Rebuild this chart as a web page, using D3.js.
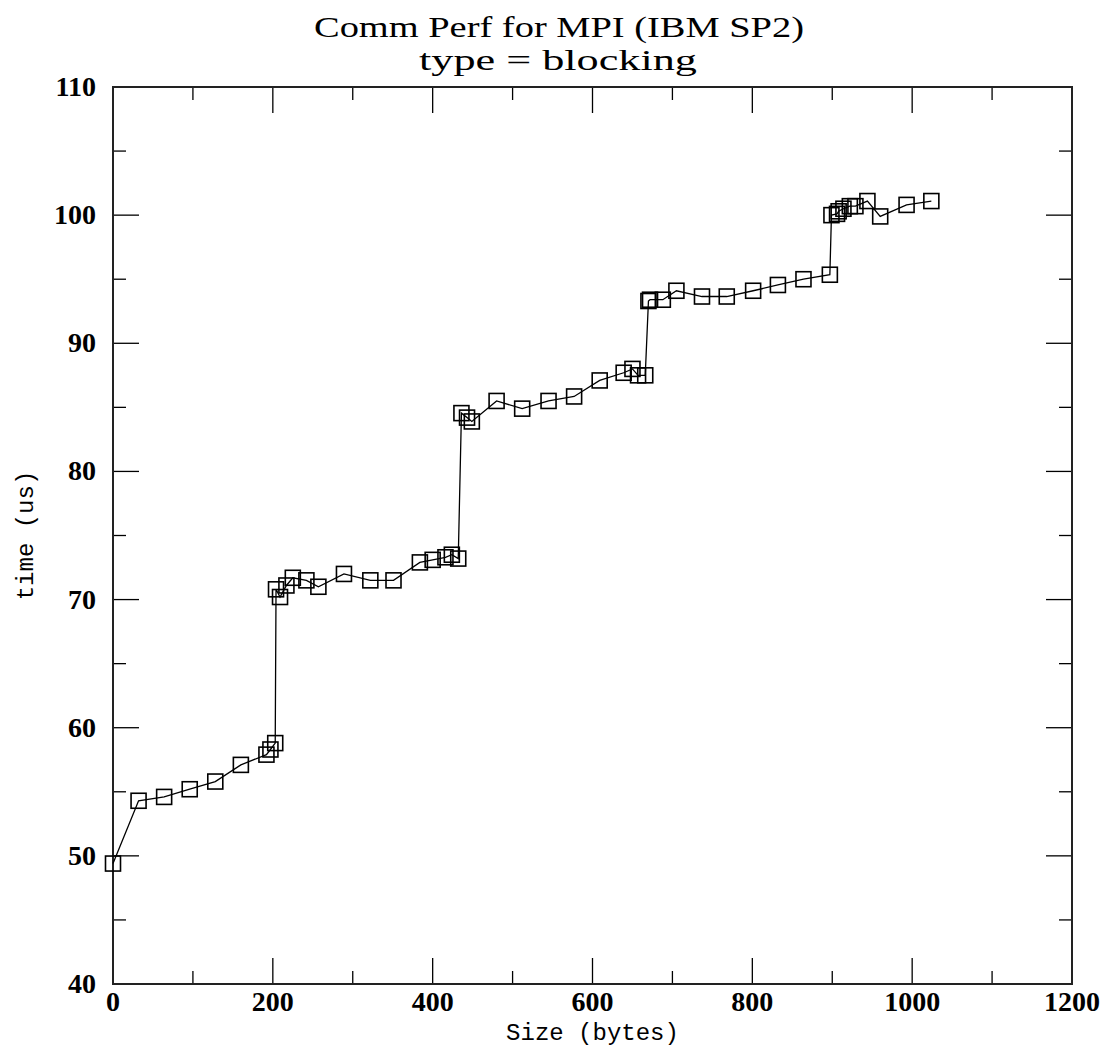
<!DOCTYPE html>
<html>
<head>
<meta charset="utf-8">
<script src="https://cdn.jsdelivr.net/npm/d3@7"></script>
<style>
  body { margin: 0; background: #fff; }
  .tick-label { font-family: "Liberation Serif", serif; font-weight: bold; font-size: 28px; }
  .axis-title { font-family: "Liberation Mono", monospace; font-size: 24px; }
  .title { font-family: "Liberation Serif", serif; font-size: 30px; }
</style>
</head>
<body>
<div id="chart"></div>
<script>
// message sizes (bytes) and measured times (us)
var sizes = [0, 32, 64, 96, 128, 160, 192, 197, 203,
  204, 209, 217, 225, 242, 257, 289, 322, 351,
  384, 400, 416, 424, 432,
  436, 443, 449, 480, 512, 545, 577, 609, 639, 650, 657, 666,
  670, 672, 688, 705, 737, 768, 801, 832, 864, 897,
  899, 906, 908, 914, 922, 929, 944, 960, 993, 1024];
var times = [49.4, 54.3, 54.6, 55.2, 55.8, 57.1, 57.9, 58.3, 58.8,
  70.8, 70.2, 71.1, 71.7, 71.5, 71.0, 72.0, 71.5, 71.5,
  72.9, 73.1, 73.3, 73.5, 73.2,
  84.55, 84.2, 83.9, 85.5, 84.9, 85.5, 85.85, 87.1, 87.7, 88.0, 87.5, 87.5,
  93.3, 93.4, 93.4, 94.1, 93.65, 93.65, 94.1, 94.55, 95.0, 95.35,
  100.0, 100.1, 100.3, 100.5, 100.7, 100.7, 101.1, 99.9, 100.8, 101.1];

var xTicks = [0, 200, 400, 600, 800, 1000, 1200];
var yTicks = [40, 50, 60, 70, 80, 90, 100, 110];

var svgWidth = 1108;
var svgHeight = 1049;
var margin = {top: 87, right: 36, bottom: 65, left: 113};
var chartWidth = svgWidth - margin.left - margin.right;
var chartHeight = svgHeight - margin.top - margin.bottom;

var svg = d3.select("#chart")
  .append("svg")
  .attr("width", svgWidth)
  .attr("height", svgHeight);

var g = svg.append("g")
  .attr("transform", `translate(${margin.left},${margin.top})`);

var x = d3.scaleLinear().domain([0, 1200]).range([0, chartWidth]);
var y = d3.scaleLinear().domain([40, 110]).range([chartHeight, 0]);

var points = sizes.map(function(s, i) { return [s, times[i]]; });

// ticks on all four sides, pointing inward
var majorLen = 26, minorLen = 13;
var xMinor = d3.range(100, 1200, 200);
var yMinor = d3.range(45, 110, 10);

function tickLines(vals, len, vertical) {
  vals.forEach(function(v) {
    if (vertical) {
      g.append("line").attr("x1", x(v)).attr("x2", x(v))
        .attr("y1", chartHeight).attr("y2", chartHeight - len);
      g.append("line").attr("x1", x(v)).attr("x2", x(v))
        .attr("y1", 0).attr("y2", len);
    } else {
      g.append("line").attr("y1", y(v)).attr("y2", y(v))
        .attr("x1", 0).attr("x2", len);
      g.append("line").attr("y1", y(v)).attr("y2", y(v))
        .attr("x1", chartWidth).attr("x2", chartWidth - len);
    }
  });
}
tickLines(xTicks, majorLen, true);
tickLines(xMinor, minorLen, true);
tickLines(yTicks, majorLen, false);
tickLines(yMinor, minorLen, false);
g.selectAll("line").attr("stroke", "#000").attr("stroke-width", 1.3);

// frame
g.append("rect")
  .attr("width", chartWidth)
  .attr("height", chartHeight)
  .attr("fill", "none")
  .attr("stroke", "#222")
  .attr("stroke-width", 2);

// tick labels
g.selectAll(".xl")
  .data(xTicks)
  .enter()
  .append("text")
  .attr("class", "tick-label")
  .attr("x", function(d) { return x(d); })
  .attr("y", chartHeight + 27)
  .attr("text-anchor", "middle")
  .text(function(d) { return d; });

g.selectAll(".yl")
  .data(yTicks)
  .enter()
  .append("text")
  .attr("class", "tick-label")
  .attr("x", -17)
  .attr("y", function(d) { return y(d) + 9; })
  .attr("text-anchor", "end")
  .text(function(d) { return d; });

// data line and square markers
var line = d3.line()
  .x(function(d) { return x(d[0]); })
  .y(function(d) { return y(d[1]); });

g.append("path")
  .datum(points)
  .attr("d", line)
  .attr("fill", "none")
  .attr("stroke", "#000")
  .attr("stroke-width", 1.3);

var sq = 15;
g.selectAll(".pt")
  .data(points)
  .enter()
  .append("rect")
  .attr("x", function(d) { return x(d[0]) - sq / 2; })
  .attr("y", function(d) { return y(d[1]) - sq / 2; })
  .attr("width", sq)
  .attr("height", sq)
  .attr("fill", "none")
  .attr("stroke", "#000")
  .attr("stroke-width", 1.6);

// axis titles
svg.append("text")
  .attr("class", "axis-title")
  .attr("x", margin.left + chartWidth / 2)
  .attr("y", svgHeight - 9)
  .attr("text-anchor", "middle")
  .text("Size (bytes)");

svg.append("text")
  .attr("class", "axis-title")
  .attr("transform", "translate(33," + (margin.top + chartHeight / 2) + ") rotate(-90)")
  .attr("text-anchor", "middle")
  .text("time (us)");

// title, stretched to the width of the original's wide serif face
svg.append("text")
  .attr("class", "title")
  .attr("x", 559)
  .attr("y", 37)
  .attr("text-anchor", "middle")
  .attr("textLength", 490)
  .attr("lengthAdjust", "spacingAndGlyphs")
  .text("Comm Perf for MPI (IBM SP2)");

svg.append("text")
  .attr("class", "title")
  .attr("x", 558)
  .attr("y", 70)
  .attr("text-anchor", "middle")
  .attr("textLength", 278)
  .attr("lengthAdjust", "spacingAndGlyphs")
  .text("type = blocking");
</script>
</body>
</html>
